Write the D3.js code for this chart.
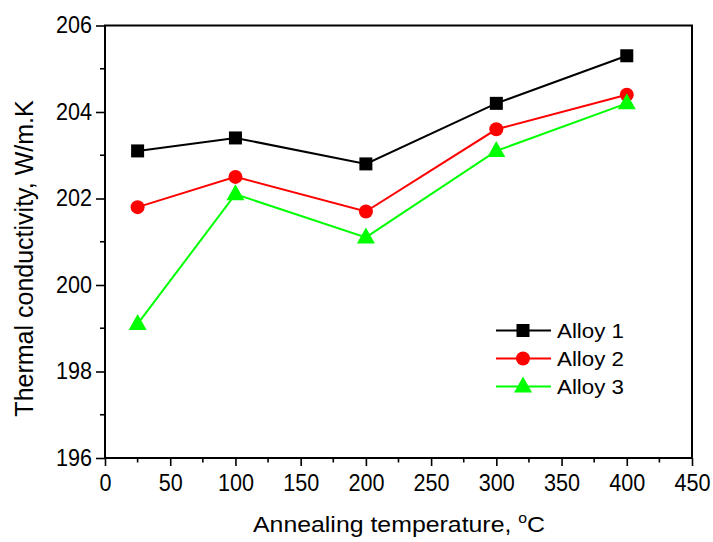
<!DOCTYPE html>
<html>
<head>
<meta charset="utf-8">
<script src="https://cdn.jsdelivr.net/npm/d3@7"></script>
<style>
  html, body { margin: 0; padding: 0; background: #fff; }
  svg { display: block; }
  text { font-family: "Liberation Sans", Arial, sans-serif; fill: #000; }
</style>
</head>
<body>
<svg id="chart" width="713" height="542"></svg>
<script>
// Annealing temperatures (°C)
const temperatures = [25, 100, 200, 300, 400];
// Thermal conductivity (W/m.K) per alloy
const alloy1 = [203.1, 203.4, 202.8, 204.2, 205.3];
const alloy2 = [201.8, 202.5, 201.7, 203.6, 204.4];
const alloy3 = [199.1, 202.1, 201.1, 203.1, 204.2];
const seriesNames = ["Alloy 1", "Alloy 2", "Alloy 3"];
const seriesColors = ["#000000", "#ff0000", "#00ff00"];
const seriesShapes = ["square", "circle", "triangle"];
const xTicks = [0, 50, 100, 150, 200, 250, 300, 350, 400, 450];
const yTicks = [196, 198, 200, 202, 204, 206];

const svg = d3.select("#chart");
const W = 713, H = 542;
const m = { left: 105, right: W - 692, top: 25.5, bottom: H - 458 };

const x = d3.scaleLinear().domain([0, 450]).range([m.left, W - m.right]);
const y = d3.scaleLinear().domain([196, 206]).range([H - m.bottom, m.top]);

// frame around the plot area
svg.append("rect")
  .attr("x", x(0)).attr("y", y(206))
  .attr("width", x(450) - x(0)).attr("height", y(196) - y(206))
  .attr("fill", "none").attr("stroke", "#000").attr("stroke-width", 2);

// bottom axis: major + minor ticks
const gx = svg.append("g").attr("transform", `translate(0,${y(196)})`);
gx.call(d3.axisBottom(x).tickValues(xTicks).tickSize(8).tickPadding(0).tickFormat(d3.format("d")))
  .call(g => g.select(".domain").remove())
  .call(g => g.selectAll("line").attr("stroke-width", 1.6))
  .call(g => g.selectAll("text")
    .attr("font-size", 23).attr("y", 33).attr("dy", null)
    .attr("textLength", d => String(d).length * 12).attr("lengthAdjust", "spacingAndGlyphs"));
gx.selectAll(".minor").data(d3.range(25, 450, 50)).enter().append("line")
  .attr("x1", d => x(d)).attr("x2", d => x(d)).attr("y1", 0).attr("y2", 4.5)
  .attr("stroke", "#000").attr("stroke-width", 1.6);

// left axis: major + minor ticks
const gy = svg.append("g").attr("transform", `translate(${x(0)},0)`);
gy.call(d3.axisLeft(y).tickValues(yTicks).tickSize(9).tickPadding(4).tickFormat(d3.format("d")))
  .call(g => g.select(".domain").remove())
  .call(g => g.selectAll("line").attr("stroke-width", 1.6))
  .call(g => g.selectAll("text")
    .attr("font-size", 23)
    .attr("textLength", d => String(d).length * 12).attr("lengthAdjust", "spacingAndGlyphs"));
gy.selectAll(".minor").data(d3.range(197, 206, 2)).enter().append("line")
  .attr("x1", 0).attr("x2", -5).attr("y1", d => y(d)).attr("y2", d => y(d))
  .attr("stroke", "#000").attr("stroke-width", 1.6);

// axis titles
const xt = svg.append("text")
  .attr("transform", "translate(399,532) scale(1.13,1)")
  .attr("text-anchor", "middle").attr("font-size", 22);
xt.append("tspan").text("Annealing temperature, ");
xt.append("tspan").attr("font-size", 14).attr("dy", -9).text("o");
xt.append("tspan").attr("dy", 9).text("C");

svg.append("text")
  .attr("transform", "translate(33,258.5) rotate(-90)")
  .attr("text-anchor", "middle").attr("font-size", 25)
  .text("Thermal conductivity, W/m.K");

// marker drawing
function marker(sel, shape, color) {
  if (shape === "square") {
    sel.append("rect").attr("x", -6.5).attr("y", -6.5).attr("width", 13).attr("height", 13).attr("fill", color);
  } else if (shape === "circle") {
    sel.append("circle").attr("r", 7).attr("fill", color);
  } else {
    sel.append("path").attr("d", "M0,-10L9,6L-9,6Z").attr("fill", color);
  }
}

const allSeries = [alloy1, alloy2, alloy3];
const line = d3.line().x((d, i) => x(temperatures[i])).y(d => y(d));

allSeries.forEach((vals, k) => {
  svg.append("path").datum(vals)
    .attr("d", line).attr("fill", "none")
    .attr("stroke", seriesColors[k]).attr("stroke-width", 2);
});
allSeries.forEach((vals, k) => {
  vals.forEach((v, i) => {
    const g = svg.append("g").attr("transform", `translate(${x(temperatures[i])},${y(v)})`);
    marker(g, seriesShapes[k], seriesColors[k]);
  });
});

// legend
const lg = svg.append("g").attr("transform", "translate(496,330.5)");
seriesNames.forEach((name, k) => {
  const row = lg.append("g").attr("transform", `translate(0,${k * 28})`);
  row.append("line").attr("x1", 0).attr("x2", 55).attr("y1", 0).attr("y2", 0)
    .attr("stroke", seriesColors[k]).attr("stroke-width", 2);
  const mg = row.append("g").attr("transform", "translate(27,0)");
  marker(mg, seriesShapes[k], seriesColors[k]);
  row.append("text").attr("x", 61).attr("y", 0).attr("dy", "0.36em")
    .attr("font-size", 21).attr("textLength", 67).attr("lengthAdjust", "spacingAndGlyphs")
    .text(name);
});
</script>
</body>
</html>
